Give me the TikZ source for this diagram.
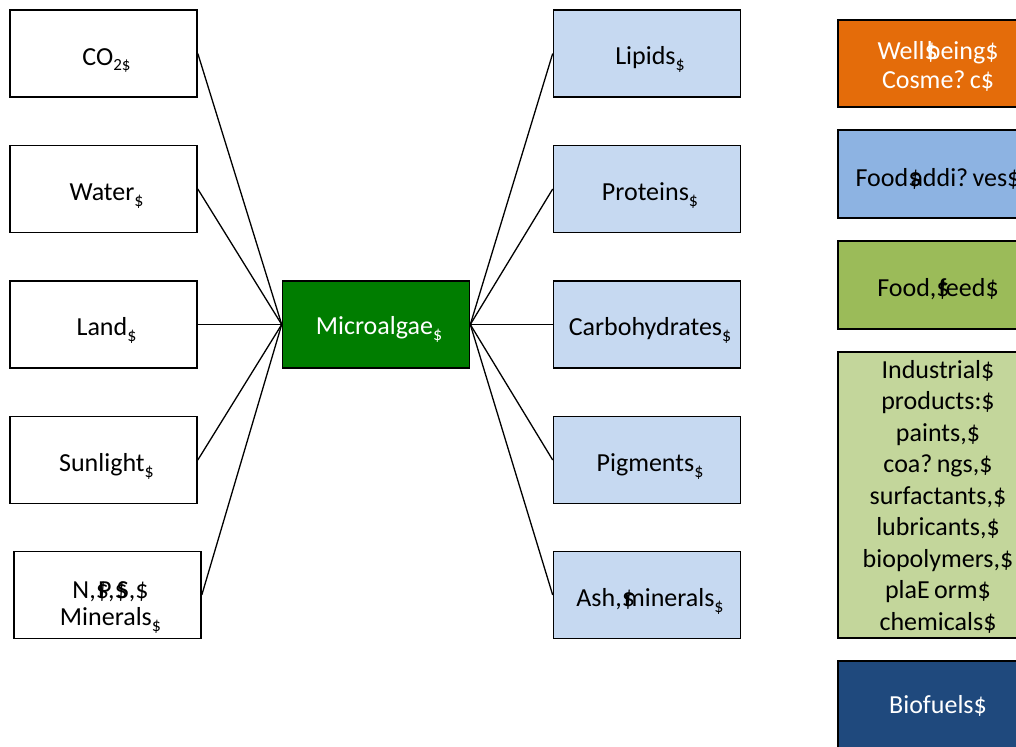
\documentclass[tikz,border=0pt]{standalone}
\usepackage{fontspec}
\setmainfont{Carlito}
\definecolor{algae}{RGB}{0,125,0}
\definecolor{lblue}{RGB}{198,217,241}
\definecolor{orng}{RGB}{228,108,10}
\definecolor{mblue}{RGB}{141,179,226}
\definecolor{olive}{RGB}{155,187,89}
\definecolor{lgreen}{RGB}{195,214,155}
\definecolor{dblue}{RGB}{31,73,125}
\newcommand{\sd}{\raisebox{-6pt}{\fontsize{18}{18}\selectfont\$}}
\newcommand{\od}{\$\kern-0.42em}
\newcommand{\ps}{\hspace*{6pt}}
\tikzset{
  box/.style={draw=black, line width=1.6pt, minimum width=187pt, minimum height=87pt,
    align=center, inner sep=0pt, font=\fontsize{26}{30}\selectfont,
    text height=22pt, text depth=0pt},
  inbox/.style={box, fill=white},
  outbox/.style={box, fill=lblue},
  usebox/.style={box, minimum width=200pt},
  link/.style={line width=1.3pt}
}
\begin{document}
\begin{tikzpicture}[x=1pt,y=-1pt]
\useasboundingbox (0,0) rectangle (1016,746);
\clip (0,0) rectangle (1016,746);
% inputs
\node[inbox, text height=24pt] (co2) at (103.5,53.5) {\ps CO\raisebox{-5pt}{\fontsize{17}{17}\selectfont 2\$}};
\node[inbox] (water) at (103.5,189) {\ps Water\sd};
\node[inbox] (land) at (103.5,324.5) {\ps Land\sd};
\node[inbox] (sun) at (103.5,460) {\ps Sunlight\sd};
\node[inbox, font=\fontsize{26}{27}\selectfont, text height=60pt] (np) at (107.5,595) {\ps N,\od P,\od S,\$\\\ps Minerals\sd};
% centre
\node[box, fill=algae, text=white, text height=20pt] (micro) at (376,324.5) {\ps Microalgae\sd};
% outputs
\node[outbox] (lip) at (647,53.5) {\ps Lipids\sd};
\node[outbox] (pro) at (647,189) {\ps Proteins\sd};
\node[outbox] (carb) at (647,324.5) {\ps Carbohydrates\sd};
\node[outbox] (pig) at (647,460) {\ps Pigments\sd};
\node[outbox] (ash) at (647,595) {\ps Ash,\od minerals\sd};
% uses
\node[usebox, fill=orng, text=white, font=\fontsize{26}{29.5}\selectfont, text height=51pt] (well) at (938,63.5) {Well\od being\$\\Cosme?\,c\$};
\node[usebox, fill=mblue, minimum height=88pt, text height=24pt] (fadd) at (938,174) {Food\od addi?\,ves\$};
\node[usebox, fill=olive, minimum height=88pt] (ffeed) at (938,285) {Food,\od feed\$};
\node[usebox, fill=lgreen, minimum height=286pt, font=\fontsize{26}{31.5}\selectfont, text height=270pt] (ind) at (938,495)
  {Industrial\$\\products:\$\\paints,\$\\coa?\,ngs,\$\\surfactants,\$\\lubricants,\$\\biopolymers,\$\\plaE\,orm\$\\chemicals\$};
\node[usebox, fill=dblue, text=white, minimum height=94pt, text height=10pt] (bio) at (938,708) {Biofuels\$};
% connectors
\foreach \n in {co2,water,land,sun,np} \draw[link] (\n.east) -- (micro.west);
\foreach \n in {lip,pro,carb,pig,ash} \draw[link] (micro.east) -- (\n.west);
\end{tikzpicture}
\end{document}
